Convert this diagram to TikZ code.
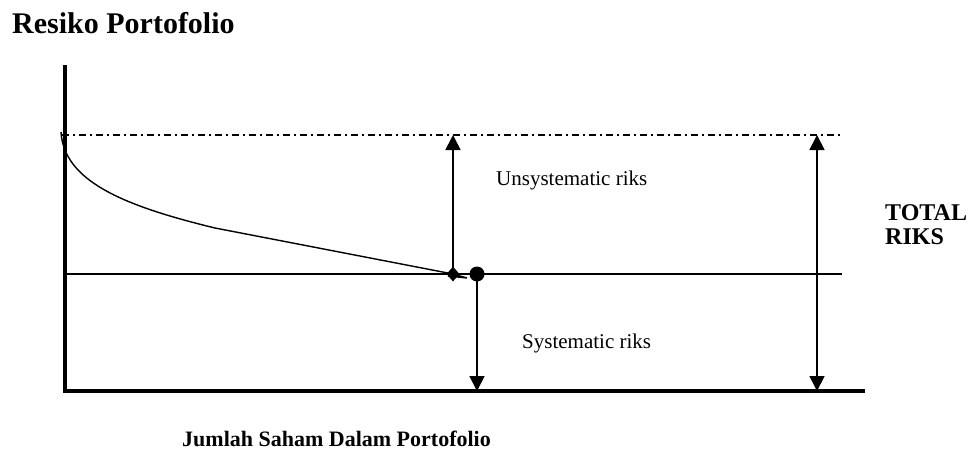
\documentclass[tikz,border=0pt]{standalone}
\usepackage{fontspec}
\setmainfont{Liberation Serif}
\usetikzlibrary{arrows.meta,shapes.geometric}
\begin{document}
\begin{tikzpicture}[x=1pt,y=-1pt,
  axis/.style={line width=3.5pt,line join=miter},
  thinline/.style={line width=1.4pt},
  dashdot/.style={line width=1.4pt,dash pattern=on 7pt off 4pt on 2pt off 4pt},
  riskarrow/.style={line width=1.8pt,-{Triangle[length=15pt,width=15pt]}},
  botharrow/.style={line width=1.8pt,{Triangle[length=15pt,width=15pt]}-{Triangle[length=15pt,width=15pt]}},
  lbl/.style={inner sep=0pt,anchor=base west,font=\fontsize{21}{25}\selectfont},
  blbl/.style={inner sep=0pt,anchor=base west,font=\fontsize{22}{26}\selectfont\bfseries}
]
\useasboundingbox (0,0) rectangle (978,450);
% axes
\coordinate (ytop) at (65,65);
\coordinate (orig) at (65,391);
\coordinate (xend) at (865,391);
\draw[axis] (ytop) -- (orig) -- (xend);
% total risk top (dash-dot) and systematic level
\coordinate (tl) at (62,135);
\coordinate (tr) at (842,135);
\coordinate (sl) at (65,274);
\coordinate (sr) at (842,274);
\draw[dashdot] (tl) -- (tr);
\draw[thinline] (sl) -- (sr);
% curve
\coordinate (cstart) at (61,132);
\coordinate (cmid) at (215,228);
\coordinate (loop) at (467,278);
\node[diamond,fill=black,inner sep=0pt,minimum width=13pt,minimum height=15pt] (dia) at (453,274) {};
\node[circle,fill=black,inner sep=0pt,minimum size=15pt] (dot) at (477,274) {};
\draw[thinline] (cstart) .. controls (64,180) and (120,205) .. (cmid) -- (dia.center) -- (loop) -- (448,276);
% arrows
\coordinate (uatop) at (453,135);
\coordinate (sabot) at (477,391);
\coordinate (ttop) at (817,135);
\coordinate (tbot) at (817,391);
\draw[riskarrow] (dia.center) -- (uatop);
\draw[riskarrow] (dot.center) -- (sabot);
\draw[botharrow] (tbot) -- (ttop);
% texts
\node[blbl,font=\fontsize{30}{34}\selectfont\bfseries] (title) at (12,33) {Resiko Portofolio};
\node[lbl] (unsys) at (496,185) {Unsystematic riks};
\node[lbl] (sys) at (522,348) {Systematic riks};
\node[blbl,font=\fontsize{24}{28}\selectfont\bfseries] (total) at (885,220) {TOTAL};
\node[blbl,font=\fontsize{24}{28}\selectfont\bfseries] (riks) at (885,244) {RIKS};
\node[blbl] (xlabel) at (182,446) {Jumlah Saham Dalam Portofolio};
\end{tikzpicture}
\end{document}
